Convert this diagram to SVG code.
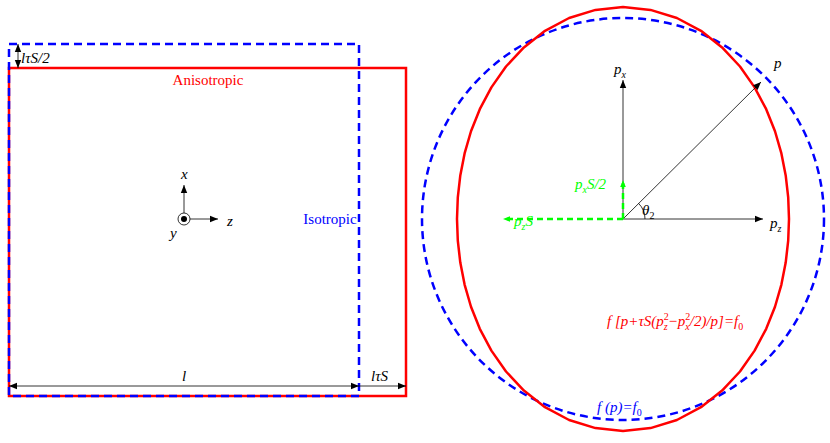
<svg xmlns="http://www.w3.org/2000/svg" width="830" height="443" viewBox="0 0 830 443">
<style>
text{font-family:"Liberation Serif",serif;font-size:15px}
.i{font-style:italic}
.k{stroke:#000;stroke-width:0.8;fill:none}
.r{stroke:#f00;stroke-width:2.5;fill:none}
.b{stroke:#00f;stroke-width:2.5;fill:none;stroke-dasharray:8,5}
.g{stroke:#0f0;stroke-width:2.5;fill:none;stroke-dasharray:6,4}
</style>
<defs>
<marker id="a" viewBox="0 0 10 10" refX="10" refY="5" markerWidth="10" markerHeight="8" markerUnits="userSpaceOnUse" orient="auto-start-reverse"><path d="M0,1L10,5L0,9z" fill="#000"/></marker>
<marker id="ag" viewBox="0 0 10 10" refX="10" refY="5" markerWidth="7" markerHeight="9" markerUnits="userSpaceOnUse" orient="auto"><path d="M0,1L10,5L0,9z" fill="#0f0"/></marker>
</defs>
<g id="left">
<rect class="r" x="9" y="68" width="397" height="328"/>
<rect class="b" x="9" y="44" width="350" height="352"/>
<text x="208" y="85" fill="#f00" text-anchor="middle">Anisotropic</text>
<text x="330" y="224" fill="#00f" text-anchor="middle">Isotropic</text>
</g>
<g id="axes">
<circle cx="184" cy="219" r="6" class="k"/>
<circle cx="184" cy="219" r="3"/>
<text class="i" x="181" y="179">x</text>
<text class="i" x="227" y="226">z</text>
<text class="i" x="170" y="238">y</text>
</g>
<g id="right">
<circle cx="623" cy="219" r="201" class="b"/>
<path class="r" d="M789,219L788.2,197.3L785.7,175.4L781.4,153.4L775,131.25L766.2,109.2L754.6,87.4L740,66.5L722.1,47.4L701,30.8L676.9,18L650.5,9.9L623,7.1L595.5,9.9L569.1,18L545,30.8L523.9,47.4L506,66.5L491.4,87.4L479.8,109.2L471,131.25L464.6,153.4L460.3,175.4L457.8,197.3L457,219L457.8,240.7L460.3,262.6L464.6,284.6L471,306.75L479.8,328.8L491.4,350.6L506,371.5L523.9,390.6L545,407.2L569.1,420L595.5,428.1L623,430.9L650.5,428.1L676.9,420L701,407.2L722.1,390.6L740,371.5L754.6,350.6L766.2,328.8L775,306.75L781.4,284.6L785.7,262.6L788.2,240.7Z" stroke-linejoin="round"/>
<path class="k" d="M645,219A22,22 0 0 0 638.6,203.4"/>
<text class="i" x="642" y="215">θ<tspan font-size="10" dy="4" font-style="normal">2</tspan></text>
<text class="i" x="614" y="74">p<tspan font-size="10" dy="4">x</tspan></text>
<text class="i" x="770" y="228">p<tspan font-size="10" dy="4">z</tspan></text>
<text class="i" x="774" y="68">p</text>
<text class="i" x="575" y="189" fill="#0f0">p<tspan font-size="10" dy="4">x</tspan><tspan dy="-4">S/2</tspan></text>
<text class="i" x="514" y="226" fill="#0f0">p<tspan font-size="10" dy="4">z</tspan><tspan dy="-4">S</tspan></text>
<text class="i" x="607" y="326" fill="#f00">f [p+τS(p<tspan font-size="10" dy="-6" font-style="normal">2</tspan><tspan font-size="10" dx="-5" dy="10">z</tspan><tspan dy="-4">−p</tspan><tspan font-size="10" dy="-6" font-style="normal">2</tspan><tspan font-size="10" dx="-5" dy="10">x</tspan><tspan dy="-4">/2)/p]=f</tspan><tspan font-size="10" dy="4" font-style="normal">0</tspan></text>
<text class="i" x="597" y="412" fill="#00f">f (p)=f<tspan font-size="10" dy="4" font-style="normal">0</tspan></text>
</g>
<g id="connectors">
<line class="k" x1="18" y1="44" x2="18" y2="68" marker-start="url(#a)" marker-end="url(#a)"/>
<line class="k" x1="9" y1="386" x2="359" y2="386" marker-start="url(#a)" marker-end="url(#a)"/>
<line class="k" x1="359" y1="386" x2="406" y2="386" marker-end="url(#a)"/>
<line class="k" x1="184" y1="213" x2="184" y2="185" marker-end="url(#a)"/>
<line class="k" x1="190" y1="219" x2="218" y2="219" marker-end="url(#a)"/>
<line class="k" x1="623" y1="219" x2="623" y2="80" marker-end="url(#a)"/>
<line class="k" x1="623" y1="219" x2="763" y2="219" marker-end="url(#a)"/>
<line class="k" x1="623" y1="219" x2="761" y2="82" marker-end="url(#a)"/>
<line class="g" x1="623" y1="219" x2="623" y2="180" marker-end="url(#ag)"/>
<line class="g" x1="623" y1="219" x2="503" y2="219" marker-end="url(#ag)"/>
</g>
<g id="dimlabels">
<text class="i" x="21" y="63">lτS/2</text>
<text class="i" x="182" y="381">l</text>
<text class="i" x="371" y="381">lτS</text>
</g>
</svg>
